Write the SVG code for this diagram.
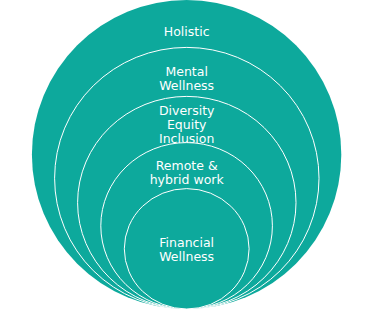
<svg xmlns="http://www.w3.org/2000/svg" width="380" height="312" viewBox="0 0 380 312">
<style>
.ring{fill:#0da99c;stroke:#ffffff;stroke-width:1}
.outer{fill:#0da99c;stroke:none}
.lbl{fill:#ffffff;font-family:"DejaVu Sans","Verdana",sans-serif;font-size:12.5px;text-anchor:middle}
</style>
<rect width="380" height="312" fill="#ffffff"/>
<g id="holistic">
<ellipse class="outer" cx="186.6" cy="154.5" rx="154.7" ry="154.5"/>
<text class="lbl" x="186.7" y="36">Holistic</text>
</g>
<g id="mental-wellness">
<ellipse class="ring" cx="186.8" cy="178.2" rx="132.2" ry="130.8"/>
<text class="lbl" x="186.7" y="76">Mental</text>
<text class="lbl" x="186.7" y="90">Wellness</text>
</g>
<g id="dei">
<ellipse class="ring" cx="186.8" cy="202.7" rx="109.2" ry="106.3"/>
<text class="lbl" x="186.7" y="115">Diversity</text>
<text class="lbl" x="186.7" y="129">Equity</text>
<text class="lbl" x="186.7" y="143">Inclusion</text>
</g>
<g id="remote-hybrid">
<ellipse class="ring" cx="186.6" cy="225.8" rx="85.8" ry="83.2"/>
<text class="lbl" x="186.7" y="169.5">Remote &amp;</text>
<text class="lbl" x="186.7" y="184">hybrid work</text>
</g>
<g id="financial-wellness">
<ellipse class="ring" cx="186.7" cy="248.8" rx="62.4" ry="60.2"/>
<text class="lbl" x="186.7" y="247">Financial</text>
<text class="lbl" x="186.7" y="261">Wellness</text>
</g>
</svg>
